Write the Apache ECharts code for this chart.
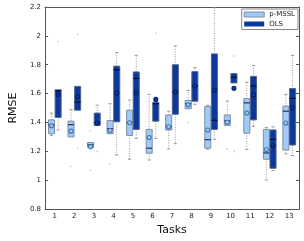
<!DOCTYPE html>
<html><head><meta charset="utf-8">
<script src="https://cdn.jsdelivr.net/npm/echarts@6/dist/echarts.min.js"></script>
<style>html,body{margin:0;padding:0;background:#fff}#c{width:304px;height:241px}</style>
</head><body><div id="c"></div>
<script>
const categories = ['1','2','3','4','5','6','7','8','9','10','11','12','13'];
const yTicks = [0.8, 1, 1.2, 1.4, 1.6, 1.8, 2, 2.2];

const pmsslLow  = [1.309,1.300,1.228,1.322,1.145,1.140,1.217,1.495,1.215,1.380,1.213,1.002,1.183];
const pmsslQ1   = [1.322,1.300,1.228,1.322,1.310,1.187,1.348,1.495,1.222,1.380,1.326,1.145,1.209];
const pmsslMed  = [1.385,1.385,1.245,1.357,1.400,1.222,1.370,1.530,1.281,1.411,1.536,1.189,1.478];
const pmsslQ3   = [1.418,1.409,1.261,1.413,1.485,1.352,1.452,1.552,1.511,1.452,1.565,1.352,1.513];
const pmsslHigh = [1.465,1.489,1.261,1.530,1.555,1.595,1.478,1.622,1.520,1.548,1.679,1.365,1.595];
const pmsslMean = [1.377,1.340,1.232,1.344,1.398,1.296,1.370,1.522,1.348,1.402,1.465,1.213,1.396];

const olsLow  = [1.348,1.485,1.380,1.175,1.290,1.290,1.253,1.526,1.283,1.674,1.374,1.067,1.171];
const olsQ1   = [1.435,1.485,1.380,1.405,1.352,1.409,1.457,1.547,1.352,1.674,1.418,1.083,1.244];
const olsMed  = [1.620,1.540,1.400,1.765,1.705,1.530,1.615,1.652,1.415,1.713,1.652,1.283,1.567];
const olsQ3   = [1.626,1.650,1.465,1.790,1.750,1.540,1.800,1.752,1.875,1.739,1.719,1.348,1.635];
const olsHigh = [1.626,1.650,1.520,1.885,1.865,1.540,1.930,1.780,2.200,1.739,1.795,1.370,1.865];
const olsMean = [1.594,1.580,1.395,1.604,1.605,1.560,1.612,1.652,1.624,1.637,1.591,1.240,1.502];

// outliers: [task index, value]
const pmsslOutliers = [[1,1.095],[2,1.343],[2,1.067],[3,1.110],[7,1.400],[9,1.217]];
const olsOutliers   = [[0,1.960],[1,2.010],[1,1.220],[2,1.200],[5,2.020],[9,1.860],[9,1.200]];

function build(low,q1,med,q3,high,mean){
  return categories.map((c,i)=>[i,low[i],q1[i],med[i],q3[i],high[i],mean[i]]);
}

function makeRender(side, st){
  return function(params, api){
    const i = api.value(0);
    const band = api.size([1,0])[0];
    const w = band*0.31;
    const cx = api.coord([i,0])[0] + side*band*0.17;
    const y = k => api.coord([i, api.value(k)])[1];
    const yl=y(1), yq1=y(2), ym=y(3), yq3=y(4), yh=y(5), ymean=y(6);
    const cap = 1.6;
    const wh = {stroke:'#9a9a9a', lineWidth:1, lineDash:[1,1.5]};
    const capS = {stroke:'#9a9a9a', lineWidth:1};
    const ch = [];
    if (yh < yq3-0.5){
      ch.push({type:'line',shape:{x1:cx,y1:yq3,x2:cx,y2:yh},style:wh});
      ch.push({type:'line',shape:{x1:cx-cap,y1:yh,x2:cx+cap,y2:yh},style:capS});
    }
    if (yl > yq1+0.5){
      ch.push({type:'line',shape:{x1:cx,y1:yq1,x2:cx,y2:yl},style:wh});
      ch.push({type:'line',shape:{x1:cx-cap,y1:yl,x2:cx+cap,y2:yl},style:capS});
    }
    ch.push({type:'rect',shape:{x:cx-w/2,y:yq3,width:w,height:Math.max(yq1-yq3,1)},
      style:{fill:st.fill,stroke:st.border,lineWidth:1}});
    ch.push({type:'line',shape:{x1:cx-w/2,y1:ym,x2:cx+w/2,y2:ym},style:{stroke:st.median,lineWidth:1.2}});
    ch.push({type:'circle',shape:{cx:cx,cy:ymean,r:2},style:{fill:st.fill,stroke:st.mean,lineWidth:1.1}});
    return {type:'group',children:ch};
  };
}

const lightSt = {fill:'#9fcbf6', border:'#7f8ea5', median:'#25345a', mean:'#3f77b8'};
const darkSt  = {fill:'#0a399b', border:'#55648a', median:'#020c38', mean:'#031e6a'};

const chart = echarts.init(document.getElementById('c'), null, {renderer:'canvas'});
const axisLine = {lineStyle:{color:'#555', width:1}};
chart.setOption({
  animation:false,
  grid:{left:27, right:5, top:7, bottom:20},
  legend:{
    right:6, top:9, orient:'vertical', itemWidth:20, itemHeight:5, itemGap:2.5,
    borderColor:'#8a8a8a', borderWidth:1, padding:[2,3,2,2], backgroundColor:'#fff',
    textStyle:{fontSize:7, color:'#222', fontFamily:'DejaVu Sans'},
    data:[
      {name:'p-MSSL', icon:'rect', itemStyle:{color:lightSt.fill, borderColor:lightSt.border, borderWidth:1}},
      {name:'OLS', icon:'rect', itemStyle:{color:darkSt.fill, borderColor:darkSt.border, borderWidth:0}}
    ]
  },
  xAxis:[
    {type:'category', data:categories, boundaryGap:true, axisLine:axisLine,
     axisTick:{inside:true, alignWithLabel:true, length:3, lineStyle:{color:'#555'}},
     axisLabel:{fontSize:7, color:'#222', margin:4, fontFamily:'DejaVu Sans'},
     name:'Tasks', nameLocation:'middle', nameGap:15,
     nameTextStyle:{fontSize:11, color:'#111', fontFamily:'DejaVu Sans'}, splitLine:{show:false}},
    {type:'category', data:categories, position:'top', boundaryGap:true, axisLine:axisLine,
     axisTick:{inside:true, alignWithLabel:true, length:3, lineStyle:{color:'#555'}},
     axisLabel:{show:false}}
  ],
  yAxis:[
    {type:'value', min:0.8, max:2.2, interval:0.2, axisLine:{show:true, lineStyle:{color:'#555'}},
     axisTick:{show:true, inside:true, length:3, lineStyle:{color:'#555'}},
     axisLabel:{fontSize:7, color:'#222', margin:4, fontFamily:'DejaVu Sans',
       formatter:v=>{const t=yTicks.find(a=>Math.abs(a-v)<1e-6); return t===undefined?'':String(t);}},
     splitLine:{show:false},
     name:'RMSE', nameLocation:'middle', nameGap:17,
     nameTextStyle:{fontSize:11, color:'#111', fontFamily:'DejaVu Sans'}},
    {type:'value', min:0.8, max:2.2, interval:0.2, position:'right', axisLine:{show:true, lineStyle:{color:'#555'}},
     axisTick:{show:true, inside:true, length:3, lineStyle:{color:'#555'}},
     axisLabel:{show:false}, splitLine:{show:false}}
  ],
  series:[
    {name:'p-MSSL', type:'custom', renderItem:makeRender(-1, lightSt), clip:true,
     itemStyle:{color:lightSt.fill}, encode:{x:0, y:[1,2,3,4,5,6]},
     data:build(pmsslLow,pmsslQ1,pmsslMed,pmsslQ3,pmsslHigh,pmsslMean)},
    {name:'OLS', type:'custom', renderItem:makeRender(1, darkSt), clip:true,
     itemStyle:{color:darkSt.fill}, encode:{x:0, y:[1,2,3,4,5,6]},
     data:build(olsLow,olsQ1,olsMed,olsQ3,olsHigh,olsMean)},
    {type:'scatter', symbol:'circle', symbolSize:1.6, symbolOffset:[-3.5,0],
     itemStyle:{color:'#b5b5b5'}, data:pmsslOutliers, silent:true},
    {type:'scatter', symbol:'circle', symbolSize:1.6, symbolOffset:[3.5,0],
     itemStyle:{color:'#b5b5b5'}, data:olsOutliers, silent:true}
  ]
});
</script></body></html>
